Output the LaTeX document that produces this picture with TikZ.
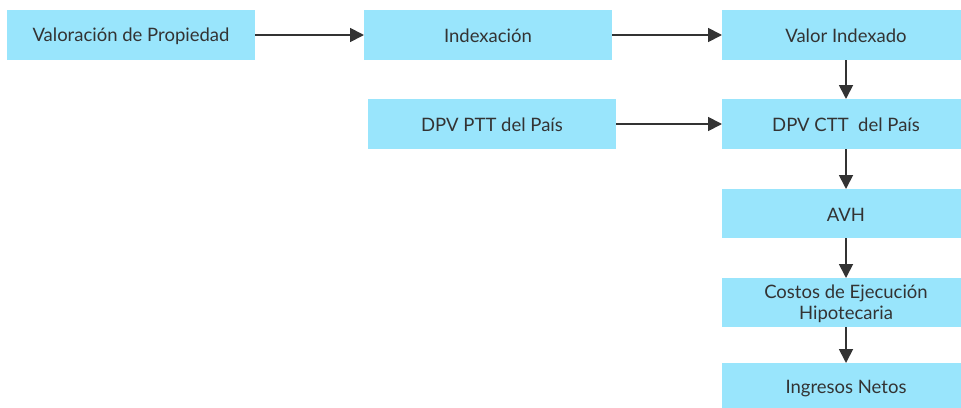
\documentclass[tikz,border=0pt]{standalone}
\usepackage{fontspec}
\setmainfont{Lato}
\usetikzlibrary{arrows.meta}
\definecolor{boxfill}{HTML}{99E5FC}
\definecolor{ink}{HTML}{333333}
\begin{document}
\begin{tikzpicture}[x=1pt,y=-1pt,
  box/.style={fill=boxfill,draw=none,inner sep=0pt,text=ink,font=\fontsize{18.5}{21}\selectfont,align=center},
  conn/.style={draw=ink,line width=1.8pt,-{Triangle[length=14pt,width=14pt]}}]
\useasboundingbox (0,0) rectangle (961,407);
\path[box] (7,10) rectangle (255,60);
\node[box] (a) at (131,36) {Valoración de Propiedad};
\coordinate (aE) at (255,35);
\path[box] (364,10) rectangle (612,60);
\node[box] (b) at (488,36) {Indexación};
\coordinate (bW) at (364,35);
\coordinate (bE) at (612,35);
\path[box] (722,10) rectangle (970,60);
\node[box] (c) at (846,36) {Valor Indexado};
\coordinate (cW) at (722,35);
\coordinate (cS) at (846,60);
\path[box] (368,99) rectangle (616,149);
\node[box] (d) at (492,125) {DPV PTT del País};
\coordinate (dE) at (616,124);
\path[box] (722,99) rectangle (970,149);
\node[box] (e) at (846,125) {DPV CTT\ \ del País};
\coordinate (eW) at (722,124);
\coordinate (eN) at (846,99);
\coordinate (eS) at (846,149);
\path[box] (722,189) rectangle (970,238);
\node[box] (f) at (846,214.5) {AVH};
\coordinate (fN) at (846,189);
\coordinate (fS) at (846,238);
\path[box] (722,278) rectangle (970,327);
\node[box] (g) at (846,303.5) {Costos de Ejecución\\Hipotecaria};
\coordinate (gN) at (846,278);
\coordinate (gS) at (846,327);
\path[box] (722,363) rectangle (970,413);
\node[box] (h) at (846,389) {Ingresos Netos};
\coordinate (hN) at (846,363);
\draw[conn] (aE) -- (bW);
\draw[conn] (bE) -- (cW);
\draw[conn] (cS) -- (eN);
\draw[conn] (dE) -- (eW);
\draw[conn] (eS) -- (fN);
\draw[conn] (fS) -- (gN);
\draw[conn] (gS) -- (hN);
\end{tikzpicture}
\end{document}
